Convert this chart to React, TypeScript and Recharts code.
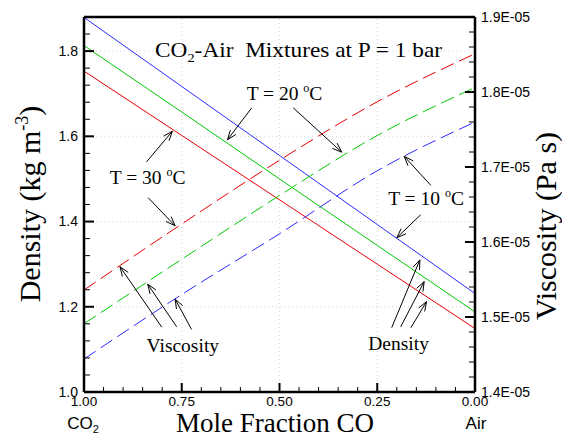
import { LineChart, Line, XAxis, YAxis, ReferenceLine, ReferenceDot } from "recharts";

// mole fraction of CO2 (axis runs 1 -> 0)
const moleFraction = [1, 0.75, 0.5, 0.25, 0];

// density, kg/m3
const density10 = [1.879, 1.717, 1.555, 1.393, 1.231];
const density20 = [1.813, 1.657, 1.5, 1.344, 1.188];
const density30 = [1.753, 1.602, 1.451, 1.3, 1.149];

// viscosity, Pa s
const viscosity10 = [1.444e-5, 1.53e-5, 1.611e-5, 1.695e-5, 1.76e-5];
const viscosity20 = [1.491e-5, 1.577e-5, 1.662e-5, 1.742e-5, 1.806e-5];
const viscosity30 = [1.536e-5, 1.624e-5, 1.709e-5, 1.787e-5, 1.851e-5];

const xTicks = [1, 0.95, 0.9, 0.85, 0.8, 0.75, 0.7, 0.65, 0.6, 0.55, 0.5, 0.45, 0.4, 0.35, 0.3, 0.25, 0.2, 0.15, 0.1, 0.05, 0];
const densityTicks = [1.0, 1.04, 1.08, 1.12, 1.16, 1.2, 1.24, 1.28, 1.32, 1.36, 1.4, 1.44, 1.48, 1.52, 1.56, 1.6, 1.64, 1.68, 1.72, 1.76, 1.8, 1.84, 1.88];
const viscosityTicks = [
    1.4e-5, 1.42e-5, 1.44e-5, 1.46e-5, 1.48e-5, 1.5e-5, 1.52e-5, 1.54e-5, 1.56e-5, 1.58e-5,
    1.6e-5, 1.62e-5, 1.64e-5, 1.66e-5, 1.68e-5, 1.7e-5, 1.72e-5, 1.74e-5, 1.76e-5, 1.78e-5,
    1.8e-5, 1.82e-5, 1.84e-5, 1.86e-5, 1.88e-5, 1.9e-5,
];

// annotations in data units: [x1, y1, x2(tip), y2(tip)] on the density axis
const arrows: [number, number, number, number][] = [
    [0.571, 1.667, 0.633, 1.592],
    [0.465, 1.667, 0.341, 1.563],
    [0.84, 1.54, 0.774, 1.612],
    [0.836, 1.456, 0.767, 1.39],
    [0.113, 1.485, 0.181, 1.553],
    [0.139, 1.416, 0.2, 1.362],
    [0.801, 1.152, 0.908, 1.294],
    [0.763, 1.153, 0.837, 1.253],
    [0.725, 1.147, 0.767, 1.218],
    [0.213, 1.151, 0.141, 1.31],
    [0.19, 1.153, 0.13, 1.259],
    [0.164, 1.151, 0.124, 1.212],
];

const tempLabels = [
    { x: 0.584, y: 1.686, t: "20" },
    { x: 0.934, y: 1.489, t: "30" },
    { x: 0.222, y: 1.438, t: "10" },
];
const wordLabels = [
    { x: 0.84, y: 1.094, t: "Viscosity" },
    { x: 0.273, y: 1.098, t: "Density" },
];

const data = moleFraction.map((x, i) => ({
    x,
    d10: density10[i],
    d20: density20[i],
    d30: density30[i],
    v10: viscosity10[i],
    v20: viscosity20[i],
    v30: viscosity30[i],
}));

const SANS = "'Liberation Sans', Arial, sans-serif";
const SERIF = "'Liberation Serif', 'Times New Roman', serif";
const GAP = 6;

const near = (v: number, step: number) => Math.abs(v / step - Math.round(v / step)) < 1e-6;

const LeftTick = (p: any) => {
    const v = p.payload.value;
    const major = near(v, 0.2);
    const ax = p.x + GAP;
    return (
        <g>
            <line x1={ax} x2={ax + (major ? 10 : 6)} y1={p.y} y2={p.y} stroke="#000" strokeWidth={major ? 2 : 1} />
            {major && (
                <text x={p.x} y={p.y} dy="0.35em" textAnchor="end" fontSize={14} fontFamily={SANS} fill="#000">
                    {v.toFixed(1)}
                </text>
            )}
        </g>
    );
};

const RightTick = (p: any) => {
    const v = p.payload.value;
    const major = near(v, 1e-6);
    const ax = p.x - GAP;
    return (
        <g>
            <line x1={ax} x2={ax - (major ? 10 : 6)} y1={p.y} y2={p.y} stroke="#000" strokeWidth={major ? 2 : 1} />
            {major && (
                <text x={p.x} y={p.y} dy="0.35em" textAnchor="start" fontSize={14} fontFamily={SANS} fill="#000">
                    {(v * 1e5).toFixed(1)}E-05
                </text>
            )}
        </g>
    );
};

const BottomTick = (p: any) => {
    const v = p.payload.value;
    const major = near(v, 0.25);
    const ay = p.y - GAP;
    return (
        <g>
            <line x1={p.x} x2={p.x} y1={ay} y2={ay - (major ? 9 : 5)} stroke="#000" strokeWidth={major ? 2 : 1} />
            {major && (
                <text x={p.x} y={ay + 14} textAnchor="middle" fontSize={13.5} fontFamily={SANS} fill="#000">
                    {v.toFixed(2)}
                </text>
            )}
        </g>
    );
};

const Arrow = (p: any) => {
    const { x1, y1, x2, y2 } = p;
    const ang = Math.atan2(y2 - y1, x2 - x1);
    const L = 10;
    const w = 0.36;
    const ax = x2 - L * Math.cos(ang - w);
    const ay = y2 - L * Math.sin(ang - w);
    const bx = x2 - L * Math.cos(ang + w);
    const by = y2 - L * Math.sin(ang + w);
    return (
        <g>
            <line x1={x1} y1={y1} x2={x2} y2={y2} stroke="#000" strokeWidth={1} />
            <polyline points={`${ax},${ay} ${x2},${y2} ${bx},${by}`} fill="none" stroke="#000" strokeWidth={1} />
        </g>
    );
};

export default function App() {
    return (
        <div style={{ position: "absolute", left: 0, top: 0, width: 562, height: 437, background: "#fff", overflow: "hidden" }}>
            <LineChart width={562} height={437} data={data} margin={{ top: 17, right: 0, bottom: 0, left: 0 }}>
                <XAxis
                    dataKey="x"
                    type="number"
                    domain={[0, 1]}
                    reversed
                    ticks={xTicks}
                    interval={0}
                    height={45}
                    tickSize={0}
                    tickMargin={GAP}
                    tickLine={false}
                    axisLine={{ stroke: "#000", strokeWidth: 2.5 }}
                    tick={(p: any) => <BottomTick {...p} />}
                />
                <YAxis
                    yAxisId="left"
                    type="number"
                    domain={[1.0, 1.88]}
                    ticks={densityTicks}
                    interval={0}
                    width={84}
                    tickSize={0}
                    tickMargin={GAP}
                    tickLine={false}
                    axisLine={{ stroke: "#000", strokeWidth: 2.5 }}
                    tick={(p: any) => <LeftTick {...p} />}
                />
                <YAxis
                    yAxisId="right"
                    orientation="right"
                    type="number"
                    domain={[1.4e-5, 1.9e-5]}
                    ticks={viscosityTicks}
                    interval={0}
                    width={87}
                    tickSize={0}
                    tickMargin={GAP}
                    tickLine={false}
                    axisLine={{ stroke: "#000", strokeWidth: 2.5 }}
                    tick={(p: any) => <RightTick {...p} />}
                />

                {[1.2, 1.4, 1.6, 1.8].map((v) => (
                    <ReferenceLine key={"h" + v} yAxisId="left" y={v} stroke="#d6d6d6" strokeDasharray="1 3" />
                ))}
                {[0.75, 0.5, 0.25].map((v) => (
                    <ReferenceLine key={"v" + v} yAxisId="left" x={v} stroke="#d6d6d6" strokeDasharray="1 3" />
                ))}
                <ReferenceLine yAxisId="left" y={1.88} stroke="#000" strokeWidth={2.5} />

                <Line yAxisId="left" type="linear" dataKey="d10" stroke="#2b2bff" strokeWidth={1} dot={false} isAnimationActive={false} />
                <Line yAxisId="left" type="linear" dataKey="d20" stroke="#00c800" strokeWidth={1} dot={false} isAnimationActive={false} />
                <Line yAxisId="left" type="linear" dataKey="d30" stroke="#e60000" strokeWidth={1} dot={false} isAnimationActive={false} />
                <Line yAxisId="right" type="monotone" dataKey="v10" stroke="#2b2bff" strokeWidth={1} strokeDasharray="14 6" dot={false} isAnimationActive={false} />
                <Line yAxisId="right" type="monotone" dataKey="v20" stroke="#00c800" strokeWidth={1} strokeDasharray="14 6" dot={false} isAnimationActive={false} />
                <Line yAxisId="right" type="monotone" dataKey="v30" stroke="#e60000" strokeWidth={1} strokeDasharray="14 6" dot={false} isAnimationActive={false} />

                {arrows.map((a, i) => (
                    <ReferenceLine
                        key={"a" + i}
                        yAxisId="left"
                        segment={[{ x: a[0], y: a[1] }, { x: a[2], y: a[3] }]}
                        ifOverflow="visible"
                        shape={(p: any) => <Arrow {...p} />}
                    />
                ))}
                {tempLabels.map((l) => (
                    <ReferenceDot
                        key={"t" + l.t}
                        yAxisId="left"
                        x={l.x}
                        y={l.y}
                        r={0}
                        ifOverflow="visible"
                        shape={(p: any) => (
                            <text x={p.cx} y={p.cy} fontSize={19.5} fontFamily={SERIF} fill="#000">
                                T = {l.t} <tspan dy={-8} fontSize={12}>o</tspan>
                                <tspan dy={8}>C</tspan>
                            </text>
                        )}
                    />
                ))}
                {wordLabels.map((l) => (
                    <ReferenceDot
                        key={"w" + l.t}
                        yAxisId="left"
                        x={l.x}
                        y={l.y}
                        r={0}
                        ifOverflow="visible"
                        shape={(p: any) => (
                            <text x={p.cx} y={p.cy} fontSize={19.5} fontFamily={SERIF} fill="#000">
                                {l.t}
                            </text>
                        )}
                    />
                ))}
            </LineChart>

            {/* titles */}
            <svg width={562} height={437} style={{ position: "absolute", left: 0, top: 0, pointerEvents: "none" }}>
                <text x={155} y={57} fontSize={21} fontFamily={SERIF} fill="#000" textLength={287} lengthAdjust="spacingAndGlyphs" style={{ whiteSpace: "pre" }}>
                    CO<tspan dy={5} fontSize={13}>2</tspan>
                    <tspan dy={-5}>-Air  Mixtures at P = 1 bar</tspan>
                </text>
                <text x={275} y={432} textAnchor="middle" fontSize={27} fontFamily={SERIF} fill="#000">
                    Mole Fraction CO
                </text>
                <text x={83} y={429} textAnchor="middle" fontSize={17} fontFamily={SANS} fill="#000">
                    CO<tspan dy={4} fontSize={11}>2</tspan>
                </text>
                <text x={476} y={429} textAnchor="middle" fontSize={17} fontFamily={SANS} fill="#000">
                    Air
                </text>
                <text transform="translate(40,204) rotate(-90)" textAnchor="middle" fontSize={30} fontFamily={SERIF} fill="#000">
                    Density (kg m<tspan dy={-12} fontSize={18}>-3</tspan>
                    <tspan dy={12}>)</tspan>
                </text>
                <text transform="translate(556,226) rotate(-90)" textAnchor="middle" fontSize={30} fontFamily={SERIF} fill="#000">
                    Viscosity (Pa s)
                </text>
            </svg>
        </div>
    );
}
